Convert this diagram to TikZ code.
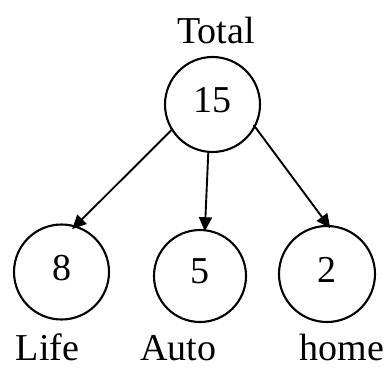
\documentclass[tikz,border=0pt]{standalone}
\usepackage{fontspec}
\setmainfont{Liberation Serif}
\usetikzlibrary{arrows.meta}

\begin{document}
\begin{tikzpicture}[x=1pt, y=-1pt,
  every node/.style={font=\fontsize{38}{45}\selectfont},
  val/.style={circle, draw, line width=2.1pt, inner sep=0pt, text depth=9pt},
  tag/.style={anchor=base, inner sep=0pt},
  arr/.style={line width=1.9pt, -{Triangle[length=14pt, width=13pt]}}]
  \useasboundingbox (0,0) rectangle (387,369);

  % totals circle and its three parts
  \node[val, minimum size=95pt] (total) at (212.5,104.5) {15};
  \node[val, minimum size=95pt] (life)  at (61.5,272)   {8};
  \node[val, minimum size=92pt] (auto)  at (200,276)    {5};
  \node[val, minimum size=96pt] (home)  at (327,274)    {2};

  % captions
  \node[tag] (ttotal) at (216,43)   {Total};
  \node[tag] (tlife)  at (47.5,360) {Life};
  \node[tag] (tauto)  at (178,360)  {Auto};
  \node[tag] (thome)  at (342,360)  {home};

  % breakdown arrows
  \draw[arr, shorten <=-2pt, shorten >=-5pt] (total.212.6) -- (life.73);
  \draw[arr, shorten >=-2pt] (total.265.6) -- (auto.84);
  \draw[arr, shorten <=-3pt, shorten >=-4pt] (total.332.7) -- (home.89);
\end{tikzpicture}
\end{document}
